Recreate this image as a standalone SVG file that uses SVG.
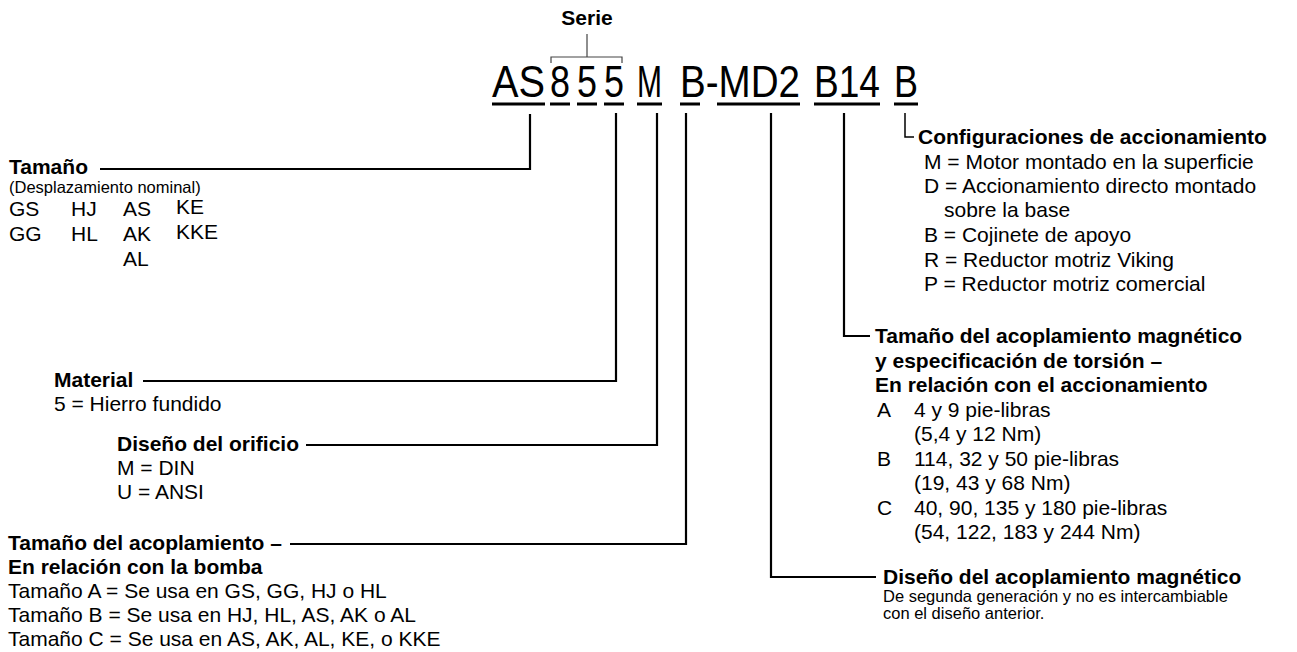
<svg xmlns="http://www.w3.org/2000/svg" width="1297" height="652" viewBox="0 0 1297 652">
<style>
text{font-family:"Liberation Sans",Arial,Helvetica,sans-serif;fill:#000}
.h{font-size:21px;font-weight:bold}
.b{font-size:21px}
.s{font-size:16.5px}
.code{font-size:44px}
.ln{fill:none;stroke:#000;stroke-width:2.2}
.ul{fill:none;stroke:#000;stroke-width:3.2}
.br{fill:none;stroke:#444;stroke-width:1.2}
</style>
<rect width="1297" height="652" fill="#fff"/>
<g id="code">
<text class="h" x="587" y="25" text-anchor="middle">Serie</text>
<path class="br" d="M587,34V57M551,63V57H622V63"/>
<text class="code" x="492" y="97" textLength="53" lengthAdjust="spacingAndGlyphs">AS</text>
<text class="code" x="550" y="97" textLength="20" lengthAdjust="spacingAndGlyphs">8</text>
<text class="code" x="577" y="97" textLength="20" lengthAdjust="spacingAndGlyphs">5</text>
<text class="code" x="604" y="97" textLength="20" lengthAdjust="spacingAndGlyphs">5</text>
<text class="code" x="637" y="97" textLength="25" lengthAdjust="spacingAndGlyphs">M</text>
<text class="code" x="680" y="97" textLength="120" lengthAdjust="spacingAndGlyphs">B-MD2</text>
<text class="code" x="814" y="97" textLength="66" lengthAdjust="spacingAndGlyphs">B14</text>
<text class="code" x="894" y="97" textLength="24" lengthAdjust="spacingAndGlyphs">B</text>
<path class="ul" d="M492,104H545M550,104H570M577,104H597M604,104H624M637,104H662M680,104H700M717,104H800M814,104H880M894,104H918"/>
</g>
<g id="connectors">
<path class="ln" d="M530,114V169H100"/>
<path class="ln" d="M616,113V381H143"/>
<path class="ln" d="M657,113V445H306"/>
<path class="ln" d="M686,113V544H290"/>
<path class="ln" d="M771,113V577H876"/>
<path class="ln" d="M844,113V336H870"/>
<path d="M905,113V137H914" fill="none" stroke="#000" stroke-width="1.5"/>
</g>
<g id="tamano">
<text class="h" x="9" y="174">Tamaño</text>
<text class="s" x="9" y="193">(Desplazamiento nominal)</text>
<text class="b" x="9" y="216">GS</text><text class="b" x="71" y="216">HJ</text><text class="b" x="123" y="216">AS</text><text class="b" x="176" y="214">KE</text>
<text class="b" x="9" y="241">GG</text><text class="b" x="71" y="241">HL</text><text class="b" x="123" y="241">AK</text><text class="b" x="176" y="239">KKE</text>
<text class="b" x="123" y="266">AL</text>
</g>
<g id="material">
<text class="h" x="54" y="387">Material</text>
<text class="b" x="54" y="411">5 = Hierro fundido</text>
</g>
<g id="orificio">
<text class="h" x="117" y="451">Diseño del orificio</text>
<text class="b" x="117" y="475">M = DIN</text>
<text class="b" x="117" y="499">U = ANSI</text>
</g>
<g id="acoplamiento">
<text class="h" x="8" y="550">Tamaño del acoplamiento –</text>
<text class="h" x="8" y="574">En relación con la bomba</text>
<text class="b" x="8" y="598">Tamaño A = Se usa en GS, GG, HJ o HL</text>
<text class="b" x="8" y="622">Tamaño B = Se usa en HJ, HL, AS, AK o AL</text>
<text class="b" x="8" y="646">Tamaño C = Se usa en AS, AK, AL, KE, o KKE</text>
</g>
<g id="configuraciones">
<text class="h" x="918" y="144">Configuraciones de accionamiento</text>
<text class="b" x="924" y="169">M = Motor montado en la superficie</text>
<text class="b" x="924" y="193">D = Accionamiento directo montado</text>
<text class="b" x="944" y="217">sobre la base</text>
<text class="b" x="924" y="242">B = Cojinete de apoyo</text>
<text class="b" x="924" y="267">R = Reductor motriz Viking</text>
<text class="b" x="924" y="291">P = Reductor motriz comercial</text>
</g>
<g id="magnetico-tamano">
<text class="h" x="875" y="343">Tamaño del acoplamiento magnético</text>
<text class="h" x="875" y="368">y especificación de torsión –</text>
<text class="h" x="875" y="392">En relación con el accionamiento</text>
<text class="b" x="877" y="417">A</text><text class="b" x="914" y="417">4 y 9 pie-libras</text>
<text class="b" x="914" y="441">(5,4 y 12 Nm)</text>
<text class="b" x="877" y="466">B</text><text class="b" x="914" y="466">114, 32 y 50 pie-libras</text>
<text class="b" x="914" y="490">(19, 43 y 68 Nm)</text>
<text class="b" x="877" y="515">C</text><text class="b" x="914" y="515">40, 90, 135 y 180 pie-libras</text>
<text class="b" x="914" y="539">(54, 122, 183 y 244 Nm)</text>
</g>
<g id="magnetico-diseno">
<text class="h" x="883" y="584">Diseño del acoplamiento magnético</text>
<text class="s" x="883" y="602">De segunda generación y no es intercambiable</text>
<text class="s" x="883" y="619">con el diseño anterior.</text>
</g>
</svg>
